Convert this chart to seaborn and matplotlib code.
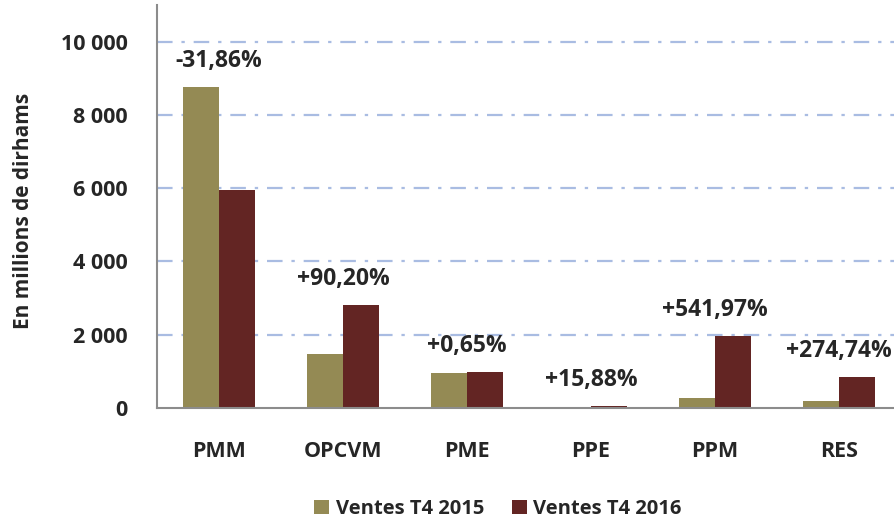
import numpy as np
import pandas as pd
import seaborn as sns
import matplotlib.pyplot as plt
from matplotlib.patches import Patch
from matplotlib.ticker import FuncFormatter, FixedLocator

categories = ['PMM', 'OPCVM', 'PME', 'PPE', 'PPM', 'RES']
ventes_2015 = [8770, 1480, 950, 40, 280, 190]
ventes_2016 = [5960, 2815, 975, 46, 1970, 848]
variations = ['-31,86%', '+90,20%', '+0,65%', '+15,88%', '+541,97%', '+274,74%']
series = ['Ventes T4 2015', 'Ventes T4 2016']

colors = ['#948A54', '#632523']
grid_color = '#A9BCE2'
spine_color = '#8C8C8C'

sns.set_style('white')
plt.rcParams['font.family'] = ['Open Sans', 'DejaVu Sans']
plt.rcParams['font.weight'] = 'bold'

df = pd.DataFrame({
    'categorie': categories * 2,
    'serie': [series[0]] * len(categories) + [series[1]] * len(categories),
    'valeur': ventes_2015 + ventes_2016,
})

fig = plt.figure(figsize=(8.95, 5.24), dpi=100)
ax = fig.add_axes([157 / 895, 116 / 524, 744 / 895, 403 / 524])

sns.barplot(data=df, x='categorie', y='valeur', hue='serie', palette=colors,
            width=0.58, gap=0, saturation=1, edgecolor='none', legend=False, ax=ax)

ax.set_xlim(-0.5, len(categories) - 0.5)
ax.set_ylim(0, 11000)
ax.set_yticks(range(0, 10001, 2000))
ax.yaxis.set_major_formatter(FuncFormatter(lambda v, _: f'{int(v):,}'.replace(',', ' ')))

for y in range(2000, 10001, 2000):
    ax.axhline(y, color=grid_color, lw=1.6, linestyle=(0, (7, 4, 1.5, 4)), zorder=0, clip_on=False)

ax.set_xlabel('')
ax.set_ylabel('En millions de dirhams', fontsize=15, fontweight='bold')
ax.yaxis.set_label_coords(-0.165, 0.49)
ax.tick_params(axis='y', length=0, pad=21, labelsize=15.5)
ax.tick_params(axis='x', which='major', length=0, pad=24, labelsize=15.5)
ax.xaxis.set_minor_locator(FixedLocator(np.arange(-0.5, len(categories), 1.0)))
ax.tick_params(axis='x', which='minor', length=7, width=1.5, color=spine_color, direction='out')
for lbl in ax.get_xticklabels() + ax.get_yticklabels():
    lbl.set_fontweight('bold')

for s in ['top', 'right']:
    ax.spines[s].set_visible(False)
for s in ['left', 'bottom']:
    ax.spines[s].set_color(spine_color)
    ax.spines[s].set_linewidth(1.5)

for i, txt in enumerate(variations):
    top = max(ventes_2015[i], ventes_2016[i])
    ax.annotate(txt, (i, top), xytext=(0, 10), textcoords='offset points',
                ha='center', va='bottom', fontsize=16.5, fontweight='bold')

handles = [Patch(facecolor=c, edgecolor='none') for c in colors]
fig.legend(handles, series, loc='center', bbox_to_anchor=(498 / 895, 15 / 524), ncol=2,
           frameon=False, handlelength=0.75, handleheight=0.75,
           handletextpad=0.3, columnspacing=1.4, prop={'weight': 'bold', 'size': 14.5})

fig.savefig('out.png', dpi=100)
